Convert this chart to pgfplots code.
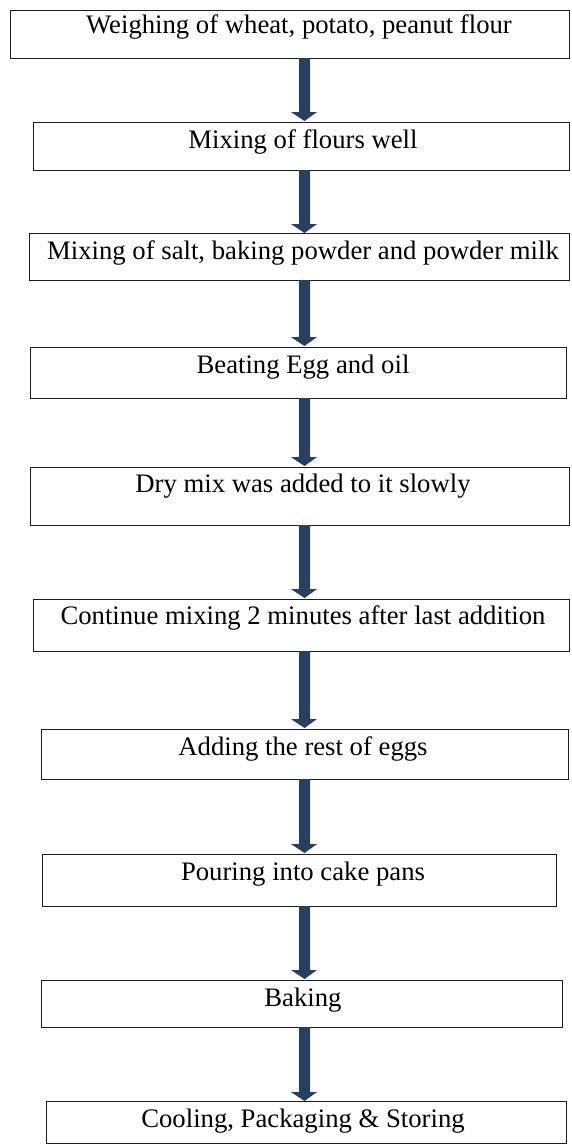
\documentclass[border=0pt]{standalone}
\usepackage{pgfplots}
\pgfplotsset{compat=1.18}
\usepackage{fontspec}
\setmainfont{Liberation Serif}
\definecolor{arrowcol}{RGB}{37,64,97}
\definecolor{boxcol}{RGB}{30,30,30}
\begin{document}
\begin{tikzpicture}
\begin{axis}[
  scale only axis, width=571pt, height=1144pt,
  xmin=0, xmax=571, ymin=0, ymax=1144, y dir=reverse,
  axis lines=none, no markers, clip mode=individual,
  every axis plot/.append style={line join=miter},
]
\path (rel axis cs:0,0) rectangle (rel axis cs:1,1);
% boxes
\addplot[draw=boxcol, line width=1pt] coordinates {(10,10) (569.5,10) (569.5,58) (10,58) (10,10)};
\addplot[draw=boxcol, line width=1pt] coordinates {(33.5,122) (569.5,122) (569.5,170) (33.5,170) (33.5,122)};
\addplot[draw=boxcol, line width=1pt] coordinates {(29,233) (569.5,233) (569.5,280) (29,280) (29,233)};
\addplot[draw=boxcol, line width=1pt] coordinates {(30,347) (566.5,347) (566.5,398) (30,398) (30,347)};
\addplot[draw=boxcol, line width=1pt] coordinates {(30,467) (569.5,467) (569.5,525) (30,525) (30,467)};
\addplot[draw=boxcol, line width=1pt] coordinates {(33.5,599) (569.5,599) (569.5,651) (33.5,651) (33.5,599)};
\addplot[draw=boxcol, line width=1pt] coordinates {(41,729) (568,729) (568,779) (41,779) (41,729)};
\addplot[draw=boxcol, line width=1pt] coordinates {(42,854) (556,854) (556,906) (42,906) (42,854)};
\addplot[draw=boxcol, line width=1pt] coordinates {(41,980) (562,980) (562,1027) (41,1027) (41,980)};
\addplot[draw=boxcol, line width=1pt] coordinates {(46,1101) (566,1101) (566,1143) (46,1143) (46,1101)};
% arrows
\addplot[fill=arrowcol, draw=none] coordinates {(299,58) (310,58) (310,112) (317,112) (304.5,121) (291,112) (299,112)};
\addplot[fill=arrowcol, draw=none] coordinates {(299,170) (310,170) (310,224) (317,224) (304.5,233) (291,224) (299,224)};
\addplot[fill=arrowcol, draw=none] coordinates {(299,280) (310,280) (310,337) (317,337) (304.5,346) (291,337) (299,337)};
\addplot[fill=arrowcol, draw=none] coordinates {(299,398) (310,398) (310,457) (317,457) (304.5,466) (291,457) (299,457)};
\addplot[fill=arrowcol, draw=none] coordinates {(299,525) (310,525) (310,589) (317,589) (304.5,598) (291,589) (299,589)};
\addplot[fill=arrowcol, draw=none] coordinates {(299,651) (310,651) (310,719) (317,719) (304.5,728) (291,719) (299,719)};
\addplot[fill=arrowcol, draw=none] coordinates {(299,779) (310,779) (310,844) (317,844) (304.5,853) (291,844) (299,844)};
\addplot[fill=arrowcol, draw=none] coordinates {(299,906) (310,906) (310,970) (317,970) (304.5,979) (291,970) (299,970)};
\addplot[fill=arrowcol, draw=none] coordinates {(299,1027) (310,1027) (310,1092) (317,1092) (304.5,1101) (291,1092) (299,1092)};
% texts
\begin{scope}[every node/.style={anchor=base, inner sep=0pt, font=\fontsize{26.7}{32}\selectfont}]
\node at (axis cs:299,33) {Weighing of wheat, potato, peanut flour};
\node at (axis cs:303,148) {Mixing of flours well};
\node at (axis cs:303,259) {Mixing of salt, baking powder and powder milk};
\node at (axis cs:303,373) {Beating Egg and oil};
\node at (axis cs:303,492) {Dry mix was added to it slowly};
\node at (axis cs:303,624) {Continue mixing 2 minutes after last addition};
\node at (axis cs:303,755) {Adding the rest of eggs};
\node at (axis cs:303,880) {Pouring into cake pans};
\node at (axis cs:303,1006) {Baking};
\node at (axis cs:303,1127) {Cooling, Packaging \& Storing};
\end{scope}
\end{axis}
\end{tikzpicture}
\end{document}
